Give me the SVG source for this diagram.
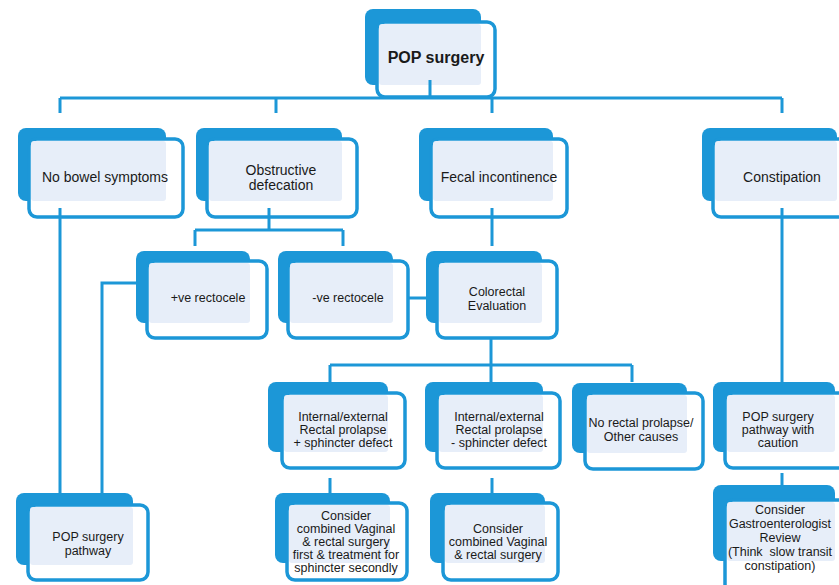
<svg xmlns="http://www.w3.org/2000/svg" width="839" height="585" viewBox="0 0 839 585">
<style>
.back{fill:#1c97d7}
.front{fill:#ffffff;stroke:#1c97d7;stroke-width:3.5}
.pale{fill:#e7eef9}
.t{font-family:"Liberation Sans",Arial,sans-serif;fill:#1a1a1a;text-anchor:middle;font-size:12.5px}
.t14{font-size:14px}
.tb{font-size:16px;font-weight:bold}
.c{fill:none;stroke:#1c97d7;stroke-width:3}
</style>
<rect width="839" height="585" fill="#ffffff"/>

<g id="pop">
<rect class="back" x="365" y="9" width="116" height="76" rx="8"/>
<rect class="front" x="377" y="22" width="118" height="75" rx="8"/>
<rect class="pale" x="379" y="24" width="102" height="61" rx="3"/>
<text class="t tb" x="436" y="63">POP surgery</text>
</g>

<g id="nobowel">
<rect class="back" x="18" y="128" width="148" height="73" rx="8"/>
<rect class="front" x="29" y="139" width="154" height="78" rx="8"/>
<rect class="pale" x="31" y="141" width="135" height="60" rx="3"/>
<text class="t t14" x="105" y="182">No bowel symptoms</text>
</g>

<g id="obstructive">
<rect class="back" x="196" y="128" width="146" height="73" rx="8"/>
<rect class="front" x="207" y="139" width="150" height="78" rx="8"/>
<rect class="pale" x="209" y="141" width="133" height="60" rx="3"/>
<text class="t t14" x="281" y="175">Obstructive</text>
<text class="t t14" x="281" y="190">defecation</text>
</g>

<g id="fecal">
<rect class="back" x="419" y="128" width="134" height="73" rx="8"/>
<rect class="front" x="431" y="139" width="136" height="78" rx="8"/>
<rect class="pale" x="433" y="141" width="120" height="60" rx="3"/>
<text class="t t14" x="499" y="182">Fecal incontinence</text>
</g>

<g id="constipation">
<rect class="back" x="702" y="128" width="135" height="73" rx="8"/>
<rect class="front" x="713" y="139" width="136" height="78" rx="8"/>
<rect class="pale" x="715" y="141" width="122" height="60" rx="3"/>
<text class="t t14" x="782" y="182">Constipation</text>
</g>

<g id="posrectocele">
<rect class="back" x="136" y="251" width="114" height="72" rx="8"/>
<rect class="front" x="147" y="261" width="120" height="77" rx="8"/>
<rect class="pale" x="149" y="263" width="101" height="60" rx="3"/>
<text class="t" x="208" y="302">+ve rectocele</text>
</g>

<g id="negrectocele">
<rect class="back" x="278" y="251" width="115" height="72" rx="8"/>
<rect class="front" x="288" y="261" width="120" height="77" rx="8"/>
<rect class="pale" x="290" y="263" width="103" height="60" rx="3"/>
<text class="t" x="348" y="302">-ve rectocele</text>
</g>

<g id="colorectal">
<rect class="back" x="426" y="251" width="116" height="72" rx="8"/>
<rect class="front" x="437" y="261" width="120" height="77" rx="8"/>
<rect class="pale" x="439" y="263" width="103" height="60" rx="3"/>
<text class="t" x="497" y="296">Colorectal</text>
<text class="t" x="497" y="310">Evaluation</text>
</g>

<g id="prolapse-plus">
<rect class="back" x="268" y="382" width="120" height="70" rx="8"/>
<rect class="front" x="282" y="393" width="123" height="75" rx="8"/>
<rect class="pale" x="284" y="395" width="104" height="57" rx="3"/>
<text class="t" x="343" y="421">Internal/external</text>
<text class="t" x="343" y="434">Rectal prolapse</text>
<text class="t" x="343" y="447">+ sphincter defect</text>
</g>

<g id="prolapse-minus">
<rect class="back" x="425" y="382" width="118" height="70" rx="8"/>
<rect class="front" x="437" y="393" width="123" height="75" rx="8"/>
<rect class="pale" x="439" y="395" width="104" height="57" rx="3"/>
<text class="t" x="499" y="421">Internal/external</text>
<text class="t" x="499" y="434">Rectal prolapse</text>
<text class="t" x="499" y="447">- sphincter defect</text>
</g>

<g id="noprolapse">
<rect class="back" x="572" y="383" width="115" height="70" rx="8"/>
<rect class="front" x="585" y="393" width="118" height="76" rx="8"/>
<rect class="pale" x="587" y="395" width="100" height="58" rx="3"/>
<text class="t" x="641" y="427">No rectal prolapse/</text>
<text class="t" x="641" y="441">Other causes</text>
</g>

<g id="caution">
<rect class="back" x="713" y="382" width="122" height="70" rx="8"/>
<rect class="front" x="725" y="393" width="122" height="75" rx="8"/>
<rect class="pale" x="727" y="395" width="108" height="57" rx="3"/>
<text class="t" x="778" y="421">POP surgery</text>
<text class="t" x="778" y="434">pathway with</text>
<text class="t" x="778" y="447">caution</text>
</g>

<g id="poppathway">
<rect class="back" x="16" y="493" width="117" height="72" rx="8"/>
<rect class="front" x="28" y="505" width="120" height="75" rx="8"/>
<rect class="pale" x="30" y="507" width="103" height="58" rx="3"/>
<text class="t" x="88" y="541">POP surgery</text>
<text class="t" x="88" y="555">pathway</text>
</g>

<g id="combined-plus">
<rect class="back" x="275" y="493" width="115" height="70" rx="8"/>
<rect class="front" x="287" y="503" width="120" height="77" rx="8"/>
<rect class="pale" x="289" y="505" width="101" height="58" rx="3"/>
<text class="t" x="346" y="520">Consider</text>
<text class="t" x="346" y="533">combined Vaginal</text>
<text class="t" x="346" y="546">&amp; rectal surgery</text>
<text class="t" x="346" y="559">first &amp; treatment for</text>
<text class="t" x="346" y="572">sphincter secondly</text>
</g>

<g id="combined-minus">
<rect class="back" x="430" y="493" width="115" height="70" rx="8"/>
<rect class="front" x="443" y="503" width="115" height="77" rx="8"/>
<rect class="pale" x="445" y="505" width="100" height="58" rx="3"/>
<text class="t" x="498" y="533">Consider</text>
<text class="t" x="498" y="546">combined Vaginal</text>
<text class="t" x="498" y="559">&amp; rectal surgery</text>
</g>

<g id="gastro">
<rect class="back" x="713" y="485" width="122" height="76" rx="8"/>
<rect class="front" x="725" y="500" width="122" height="92" rx="8"/>
<rect class="pale" x="727" y="502" width="108" height="59" rx="3"/>
<text class="t" x="780" y="514">Consider</text>
<text class="t" x="780" y="528">Gastroenterologist</text>
<text class="t" x="780" y="542">Review</text>
<text class="t" x="780" y="556">(Think&#160; slow transit</text>
<text class="t" x="780" y="570">constipation)</text>
</g>

<g id="connectors">
<path class="c" d="M430 80V98M60 98H782M60 98V113M276 98V113M492 98V113M782 98V113"/>
<path class="c" d="M269 208V230M195 230H343M195 230V246M343 230V246"/>
<path class="c" d="M492 208V246"/>
<path class="c" d="M60 208V493"/>
<path class="c" d="M147 283H102V493"/>
<path class="c" d="M408 298H437"/>
<path class="c" d="M491 338V382M330 365H632M330 365V382M632 365V382"/>
<path class="c" d="M330 478V493M492 478V493"/>
<path class="c" d="M782 208V382M782 473V485"/>
</g>
</svg>
